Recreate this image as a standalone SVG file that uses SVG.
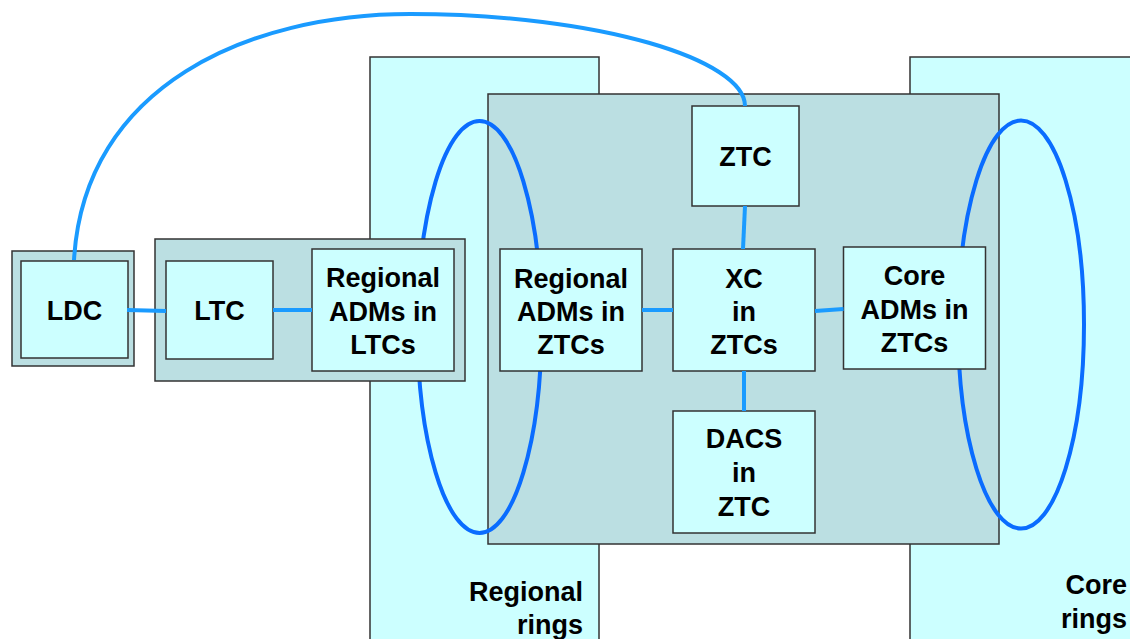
<svg xmlns="http://www.w3.org/2000/svg" width="1130" height="639" viewBox="0 0 1130 639">
<style>
.panel{fill:#CCFFFF;stroke:#333;stroke-width:1.5}
.grp{fill:#BBDFE2;stroke:#333;stroke-width:1.5}
.node{fill:#CCFFFF;stroke:#333;stroke-width:1.5}
.ring{fill:none;stroke:#0A6CFF;stroke-width:4}
.conn{fill:none;stroke:#1A9BFF;stroke-width:4}
text{font-family:"Liberation Sans",Arial,sans-serif;font-weight:bold;font-size:27px;fill:#000}
.c{text-anchor:middle}
.r{text-anchor:end}
</style>
<rect width="1130" height="639" fill="#fff"/>
<g id="regional-rings-panel">
<rect class="panel" x="370" y="57" width="229" height="600"/>
<text class="r" x="583" y="601">Regional</text>
<text class="r" x="583" y="634">rings</text>
</g>
<g id="core-rings-panel">
<rect class="panel" x="910" y="57" width="240" height="600"/>
<text class="r" x="1127" y="594">Core</text>
<text class="r" x="1127" y="628">rings</text>
</g>
<g id="ztc-panel">
<rect class="grp" x="488" y="94" width="511" height="450"/>
</g>
<g id="rings">
<ellipse class="ring" cx="479.5" cy="327" rx="62" ry="206"/>
<ellipse class="ring" cx="1021" cy="324.5" rx="63" ry="204"/>
</g>
<g id="ltc-group">
<rect class="grp" x="155" y="239" width="310" height="142"/>
</g>
<g id="ldc">
<rect class="grp" x="12" y="251" width="122" height="115"/>
<rect class="node" x="21" y="261" width="107" height="97"/>
<text class="c" x="74.5" y="320">LDC</text>
</g>
<g id="ltc">
<rect class="node" x="166" y="261" width="107" height="98"/>
<text class="c" x="219.5" y="320">LTC</text>
</g>
<g id="regional-adms-ltc">
<rect class="node" x="312" y="249" width="142" height="122"/>
<text class="c" x="383" y="287">Regional</text>
<text class="c" x="383" y="321">ADMs in</text>
<text class="c" x="383" y="354">LTCs</text>
</g>
<g id="ztc">
<rect class="node" x="692" y="106" width="107" height="100"/>
<text class="c" x="745.5" y="166">ZTC</text>
</g>
<g id="regional-adms-ztc">
<rect class="node" x="500" y="249" width="142" height="122"/>
<text class="c" x="571" y="288">Regional</text>
<text class="c" x="571" y="321">ADMs in</text>
<text class="c" x="571" y="354">ZTCs</text>
</g>
<g id="xc">
<rect class="node" x="673" y="249" width="142" height="122"/>
<text class="c" x="744" y="288">XC</text>
<text class="c" x="744" y="321">in</text>
<text class="c" x="744" y="354">ZTCs</text>
</g>
<g id="core-adms">
<rect class="node" x="843.5" y="247" width="142" height="122"/>
<text class="c" x="914.5" y="285">Core</text>
<text class="c" x="914.5" y="319">ADMs in</text>
<text class="c" x="914.5" y="352">ZTCs</text>
</g>
<g id="dacs">
<rect class="node" x="673" y="411" width="142" height="122"/>
<text class="c" x="744" y="448">DACS</text>
<text class="c" x="744" y="482">in</text>
<text class="c" x="744" y="516">ZTC</text>
</g>
<g id="connectors">
<path class="conn" d="M74,260 C84,85 250,14 410,14 C600,14 745,60 745,106"/>
<line class="conn" x1="127" y1="310" x2="166" y2="311"/>
<line class="conn" x1="273" y1="310" x2="312" y2="310"/>
<line class="conn" x1="642" y1="310" x2="673" y2="310"/>
<line class="conn" x1="815" y1="311" x2="843.5" y2="309"/>
<line class="conn" x1="745" y1="206" x2="743" y2="249"/>
<line class="conn" x1="744" y1="371" x2="744" y2="411"/>
</g>
</svg>
